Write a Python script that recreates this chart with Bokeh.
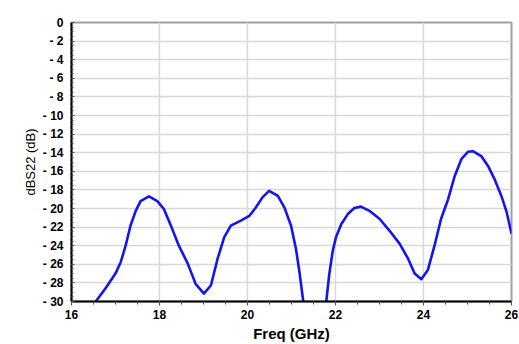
from bokeh.plotting import figure
from bokeh.models import Range1d, FixedTicker
from bokeh.embed import file_html
from bokeh.resources import INLINE

# Data
freq_ghz = [16.55, 16.77, 17.0, 17.12, 17.23, 17.34, 17.46, 17.57, 17.76, 17.95, 18.1, 18.26,
            18.44, 18.64, 18.82, 19.01, 19.17, 19.32, 19.47, 19.62, 19.85, 20.04, 20.19, 20.34,
            20.49, 20.69, 20.84, 20.99, 21.1, 21.18, 21.26, 21.4, 21.65, 21.79, 21.86, 21.94,
            22.01, 22.13, 22.28, 22.43, 22.58, 22.77, 23.0, 23.23, 23.46, 23.65, 23.8, 23.95,
            24.1, 24.25, 24.4, 24.56, 24.71, 24.86, 25.01, 25.13, 25.32, 25.47, 25.62, 25.77,
            25.89, 26.0]
dbs22 = [-30.0, -28.6, -27.0, -25.75, -24.0, -21.85, -20.25, -19.2, -18.7, -19.2, -20.05, -21.85,
         -24.0, -25.9, -28.1, -29.15, -28.25, -25.4, -23.1, -21.85, -21.3, -20.8, -19.9, -18.8,
         -18.1, -18.65, -19.9, -21.85, -24.3, -26.8, -29.7, -36.0, -36.0, -30.0, -27.0, -24.5,
         -23.1, -21.7, -20.6, -19.95, -19.8, -20.25, -21.1, -22.4, -23.8, -25.4, -27.0, -27.6,
         -26.6, -24.0, -21.1, -19.0, -16.5, -14.7, -13.9, -13.85, -14.4, -15.45, -16.9, -18.65,
         -20.4, -22.7]

x_ticks = [16, 18, 20, 22, 24, 26]
y_ticks = [0, -2, -4, -6, -8, -10, -12, -14, -16, -18, -20, -22, -24, -26, -28, -30]
y_tick_labels = ["0", "- 2", "- 4", "- 6", "- 8", "- 10", "- 12", "- 14", "- 16", "- 18",
                 "- 20", "- 22", "- 24", "- 26", "- 28", "- 30"]
x_title = "Freq (GHz)"
y_title = "dBS22 (dB)"

p = figure(width=519, height=344, output_backend="svg", toolbar_location=None,
           x_range=Range1d(16, 26), y_range=Range1d(-30, 0),
           min_border_left=71, min_border_right=8, min_border_top=22, min_border_bottom=41)

p.background_fill_color = "white"
p.border_fill_color = "white"
p.outline_line_color = "#a0a0a0"
p.outline_line_width = 2

p.line(freq_ghz, dbs22, line_color="#1414f0", line_width=2.6, line_join="round")

font = "Liberation Sans"

p.xaxis.ticker = FixedTicker(ticks=x_ticks,
                             minor_ticks=[16 + 0.5 * i for i in range(21)])
p.yaxis.ticker = FixedTicker(ticks=y_ticks,
                             minor_ticks=[-0.5 * i for i in range(61)])
p.yaxis.major_label_overrides = {t: l for t, l in zip(y_ticks, y_tick_labels)}

for ax in (p.xaxis, p.yaxis):
    ax.axis_line_color = "black"
    ax.axis_line_width = 2
    ax.major_tick_line_color = "#555555"
    ax.minor_tick_line_color = "#555555"
    ax.major_label_text_font = font
    ax.major_label_text_font_style = "bold"
    ax.major_label_text_font_size = "12px"
    ax.major_label_text_color = "black"
    ax.axis_label_text_font = font
    ax.axis_label_text_color = "black"

p.xaxis.major_tick_out = 4
p.xaxis.major_tick_in = 0
p.xaxis.minor_tick_out = 3
p.xaxis.minor_tick_in = 0
p.xaxis.major_label_standoff = 4
p.xaxis.axis_label = x_title
p.xaxis.axis_label_text_font_size = "15px"
p.xaxis.axis_label_text_font_style = "bold"
p.xaxis.axis_label_standoff = 3

p.yaxis.major_tick_out = 0
p.yaxis.major_tick_in = 3
p.yaxis.minor_tick_out = 0
p.yaxis.minor_tick_in = 2
p.yaxis.major_label_standoff = 8
p.yaxis.axis_label = y_title
p.yaxis.axis_label_text_font_size = "13px"
p.yaxis.axis_label_text_font_style = "normal"
p.yaxis.axis_label_standoff = 2

p.xgrid.grid_line_color = "#d8d8d8"
p.xgrid.grid_line_width = 1.5
p.ygrid.grid_line_color = "#d8d8d8"
p.ygrid.grid_line_width = 1.5

open("out.html", "w").write(file_html(p, INLINE))
